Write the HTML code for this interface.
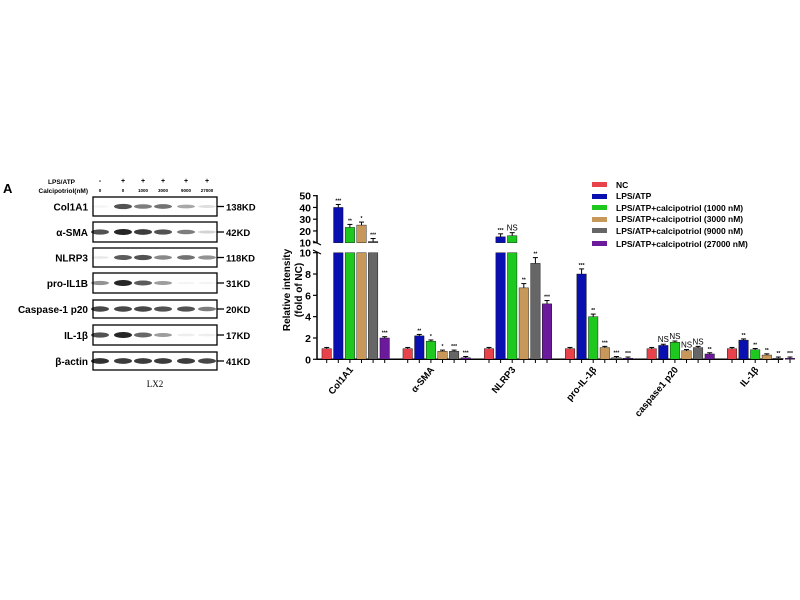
<!DOCTYPE html>
<html><head><meta charset="utf-8"><style>
html,body{margin:0;padding:0;background:#fff;}
svg{display:block;font-family:"Liberation Sans",Arial,sans-serif;}
</style></head><body>
<svg id="s" width="800" height="600" viewBox="0 0 800 600" xmlns="http://www.w3.org/2000/svg">
<rect width="800" height="600" fill="#fff"/>
<text x="3" y="193" font-size="13" font-weight="bold">A</text>
<text x="75" y="184" font-size="6.5" font-weight="bold" text-anchor="end">LPS/ATP</text>
<text x="88" y="193" font-size="6.5" font-weight="bold" text-anchor="end">Calcipotriol(nM)</text>
<text x="238" y="386" font-size="9" font-family="Liberation Serif,serif" x-dummy="" />
<text x="155" y="387" font-size="9" font-family="Liberation Serif,serif" text-anchor="middle">LX2</text>
<g id="blot"></g>
<g id="chart"></g>
<g font-size="8.5" font-weight="bold">
<rect x="592" y="182" width="15" height="5" fill="#e8434a"/><text x="616" y="188">NC</text>
<rect x="592" y="194" width="15" height="5" fill="#0a0fb0"/><text x="616" y="199">LPS/ATP</text>
<rect x="592" y="205" width="15" height="5" fill="#1ec81e"/><text x="616" y="211">LPS/ATP+calcipotriol (1000 nM)</text>
<rect x="592" y="217" width="15" height="5" fill="#c8985a"/><text x="616" y="222">LPS/ATP+calcipotriol (3000 nM)</text>
<rect x="592" y="228" width="15" height="5" fill="#666"/><text x="616" y="234">LPS/ATP+calcipotriol (9000 nM)</text>
<rect x="592" y="241" width="15" height="5" fill="#6a1a9a"/><text x="616" y="247">LPS/ATP+calcipotriol (27000 nM)</text>
</g>
</svg>
<script>
var NS="http://www.w3.org/2000/svg";
function el(p,t,a,txt){var e=document.createElementNS(NS,t);for(var k in a)e.setAttribute(k,a[k]);if(txt!=null)e.textContent=txt;p.appendChild(e);return e;}
var blot=document.getElementById('blot');
var lanes=[100,123,143,163,186,207];
var signs=['-','+','+','+','+','+'],doses=['0','0','1000','3000','9000','27000'];
lanes.forEach(function(x,i){el(blot,'text',{x:x,y:183,'font-size':7,'font-weight':'bold','text-anchor':'middle'},signs[i]);el(blot,'text',{x:x,y:192,'font-size':4.5,'font-weight':'bold','text-anchor':'middle'},doses[i]);});
var rows=[['Col1A1',197,216,'138KD',[0.05,0.8,0.6,0.65,0.4,0.15]],
['α-SMA',222,242,'42KD',[0.8,1,0.9,0.8,0.6,0.2]],
['NLRP3',248,267,'118KD',[0.1,0.75,0.8,0.55,0.65,0.5]],
['pro-IL1B',273,293,'31KD',[0.5,1,0.75,0.45,0.05,0.05]],
['Caspase-1 p20',300,318,'20KD',[0.85,0.85,0.85,0.8,0.8,0.6]],
['IL-1β',325,345,'17KD',[0.8,1,0.7,0.45,0.08,0.08]],
['β-actin',352,370,'41KD',[0.95,0.9,0.9,0.9,0.9,0.85]]];
rows.forEach(function(r){
 el(blot,'rect',{x:93,y:r[1],width:124,height:r[2]-r[1],fill:'#fff',stroke:'#000','stroke-width':1.3});
 var cy=(r[1]+r[2])/2;
 el(blot,'text',{x:88,y:cy+4,'font-size':10,'font-weight':'bold','text-anchor':'end'},r[0]);
 el(blot,'line',{x1:217,y1:cy,x2:224,y2:cy,stroke:'#000','stroke-width':1.3});
 el(blot,'text',{x:226,y:cy+4,'font-size':9.5,'font-weight':'bold'},r[3]);
 r[4].forEach(function(v,i){if(v<0.03)return;el(blot,'ellipse',{cx:lanes[i],cy:cy,rx:9,ry:1.2+v*1.8,fill:'#000','fill-opacity':v*0.85});});
});
var c=document.getElementById('chart');
function yl(v){return 359.3-v*10.66;}
function yu(v){return 242.7-(v-10)*47/40;}
// axes
el(c,'line',{x1:317,y1:252,x2:317,y2:359.3,stroke:'#000','stroke-width':1.5});
el(c,'line',{x1:317,y1:195,x2:317,y2:243,stroke:'#000','stroke-width':1.5});
el(c,'line',{x1:313,y1:241,x2:321,y2:245,stroke:'#000','stroke-width':1.2});
el(c,'line',{x1:313,y1:250,x2:321,y2:254,stroke:'#000','stroke-width':1.2});
el(c,'line',{x1:317,y1:359.3,x2:783,y2:359.3,stroke:'#000','stroke-width':1.5});
[0,2,4,6,8,10].forEach(function(v){var y=yl(v);el(c,'line',{x1:313,y1:y,x2:317,y2:y,stroke:'#000','stroke-width':1.2});el(c,'text',{x:311,y:y+4,'font-size':10.5,'font-weight':'bold','text-anchor':'end'},v);});
[10,20,30,40,50].forEach(function(v){var y=yu(v);el(c,'line',{x1:313,y1:y,x2:317,y2:y,stroke:'#000','stroke-width':1.2});el(c,'text',{x:311,y:y+4,'font-size':10.5,'font-weight':'bold','text-anchor':'end'},v);});
el(c,'text',{transform:'translate(290,290) rotate(-90)','font-size':10,'font-weight':'bold','text-anchor':'middle'},'Relative intensity');
el(c,'text',{transform:'translate(302,290) rotate(-90)','font-size':10,'font-weight':'bold','text-anchor':'middle'},'(fold of NC)');
var cols=['#e8434a','#0a0fb0','#1ec81e','#c8985a','#666','#6a1a9a'];
var groups=[['Col1A1',326.7,[1,40,23,25,11,2]],['α-SMA',407.7,[1,2.2,1.7,0.75,0.75,0.15]],['NLRP3',489,[1,15,16,6.7,9,5.2]],
['pro-IL-1β',570,[1,8,4,1.1,0.15,0.1]],['caspase1 p20',651.7,[1,1.3,1.6,0.8,1.1,0.5]],['IL-1β',732,[1,1.8,0.9,0.4,0.1,0.1]]];
var stars=[['','***','**','*','***','***'],['','**','*','*','***','***'],['','***','NS','**','**','***'],['','***','**','***','***','***'],['','NS','NS','NS','NS','**'],['','**','**','**','**','***']];
groups.forEach(function(g,gi){
 g[2].forEach(function(v,i){
  var x=g[1]+i*11.6,w=9.5,top;
  if(v>10){el(c,'rect',{x:x-w/2,y:yl(10),width:w,height:359.3-yl(10),fill:cols[i],stroke:'#000','stroke-width':0.4});
   top=yu(v);el(c,'rect',{x:x-w/2,y:top,width:w,height:242.7-top,fill:cols[i],stroke:'#000','stroke-width':0.4});}
  else{top=yl(v);el(c,'rect',{x:x-w/2,y:top,width:w,height:359.3-top,fill:cols[i],stroke:'#000','stroke-width':0.4});}
  var e=Math.max(1.2,(359.3-top)*0.06);if(v>10)e=3;
  el(c,'line',{x1:x,y1:top,x2:x,y2:top-e,stroke:'#000','stroke-width':1});
  el(c,'line',{x1:x-2.5,y1:top-e,x2:x+2.5,y2:top-e,stroke:'#000','stroke-width':1});
  el(c,'line',{x1:x,y1:359.3,x2:x,y2:363,stroke:'#000','stroke-width':1});
  var s=stars[gi][i];if(s){var ns=s=='NS';el(c,'text',{x:x,y:top-e-2,'font-size':ns?8:5,'font-weight':ns?'normal':'bold','text-anchor':'middle'},s);}
 });
 var cx=g[1]+29;
 el(c,'text',{transform:'translate('+(cx-2)+',370) rotate(-50)','font-size':9.5,'font-weight':'bold','text-anchor':'end'},g[0]);
});
</script>
</body></html>
